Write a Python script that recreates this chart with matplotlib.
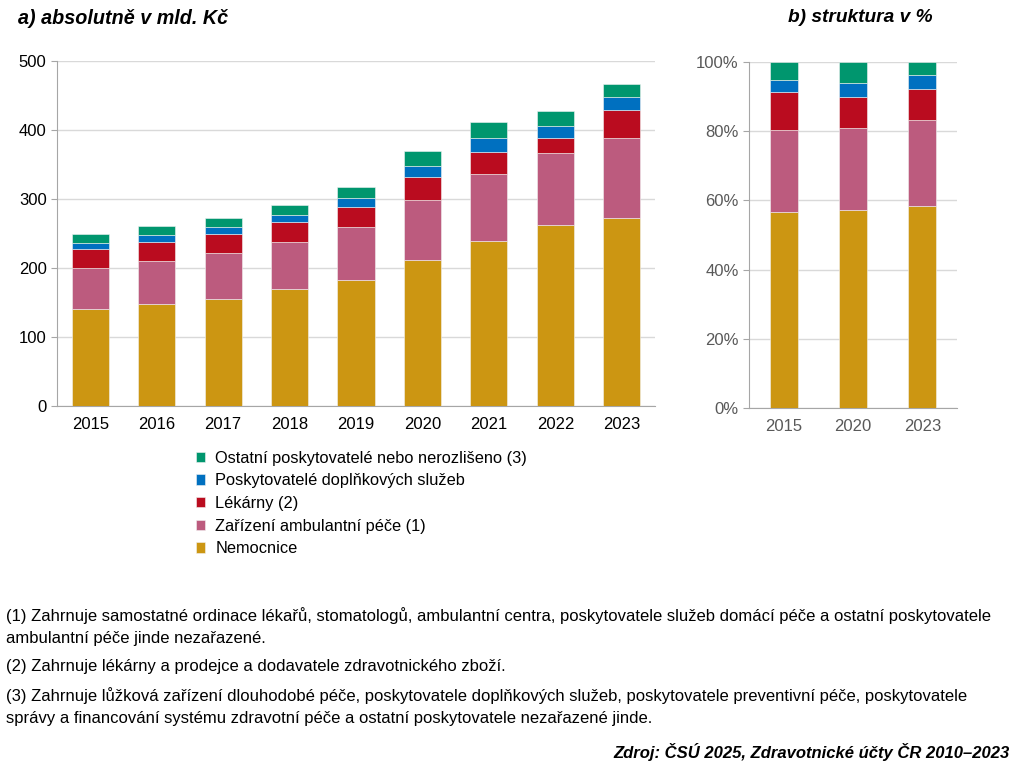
import matplotlib
matplotlib.use('Agg')
import matplotlib.pyplot as plt
import numpy as np

plt.rcParams['font.family'] = ['Liberation Sans', 'DejaVu Sans']

# data a) absolutně v mld. Kč
years = ['2015', '2016', '2017', '2018', '2019', '2020', '2021', '2022', '2023']
nemocnice = [141, 148, 155, 169, 183, 211, 239, 263, 272]
ambulantni = [58.5, 62, 66.5, 69, 76, 88, 97, 103, 116]
lekarny = [28, 27.5, 27.5, 28.5, 30, 33, 32, 22.5, 41]
doplnkove = [8.7, 10, 10, 10.5, 12, 15.5, 20, 17.5, 19]
ostatni = [13, 13, 13, 14.5, 16, 22, 23, 21, 18]

# data b) struktura v %
years_pct = ['2015', '2020', '2023']
nemocnice_pct = [56.7, 57.1, 58.5]
ambulantni_pct = [23.6, 23.8, 24.8]
lekarny_pct = [10.9, 8.9, 8.8]
doplnkove_pct = [3.7, 4.2, 4.0]
ostatni_pct = [5.1, 6.0, 3.9]

labels = ['Nemocnice', 'Zařízení ambulantní péče (1)', 'Lékárny (2)',
          'Poskytovatelé doplňkových služeb', 'Ostatní poskytovatelé nebo nerozlišeno (3)']
colors = ['#CC9612', '#BC5B7E', '#BA0C1F', '#0070C0', '#00966E']

fig = plt.figure(figsize=(10.15, 7.65), dpi=100)

ax1 = fig.add_axes([57 / 1015, 1 - 406 / 765, 598 / 1015, 345 / 765])
ax2 = fig.add_axes([749 / 1015, 1 - 408 / 765, 208 / 1015, 346 / 765])


def stacked(ax, cats, series, width):
    x = np.arange(len(cats))
    bottom = np.zeros(len(cats))
    bars = []
    for vals, col, lab in zip(series, colors, labels):
        b = ax.bar(x, vals, width, bottom=bottom, color=col, label=lab,
                   edgecolor='#F2F2F2', linewidth=0.4, zorder=3)
        bars.append(b)
        bottom = bottom + np.array(vals)
    ax.set_xticks(x)
    ax.set_xticklabels(cats)
    ax.set_xlim(-0.5, len(cats) - 0.5)
    ax.grid(axis='y', color='#D9D9D9', linewidth=1, zorder=0)
    for s in ['top', 'right']:
        ax.spines[s].set_visible(False)
    for s in ['left', 'bottom']:
        ax.spines[s].set_color('#A6A6A6')
    ax.tick_params(axis='x', length=0, pad=8, labelsize=12)
    ax.tick_params(axis='y', length=4, color='#A6A6A6', labelsize=12)
    return bars


bars = stacked(ax1, years, [nemocnice, ambulantni, lekarny, doplnkove, ostatni], 0.56)
ax1.set_ylim(0, 500)
ax1.set_yticks(range(0, 501, 100))

stacked(ax2, years_pct, [nemocnice_pct, ambulantni_pct, lekarny_pct, doplnkove_pct, ostatni_pct], 0.4)
ax2.set_ylim(0, 100)
ax2.set_yticks(range(0, 101, 20))
ax2.set_yticklabels([f'{v}%' for v in range(0, 101, 20)])
ax2.tick_params(axis='both', labelcolor='#595959')

fig.text(18 / 1015, 1 - 18 / 765, 'a) absolutně v mld. Kč', fontsize=14.2,
         fontweight='bold', style='italic', va='center', ha='left')
fig.text(860 / 1015, 1 - 18 / 765, 'b) struktura v %', fontsize=13.8,
         fontweight='bold', style='italic', va='center', ha='center')

leg = fig.legend(handles=bars[::-1], loc='upper left', bbox_to_anchor=(189 / 1015, 1 - 444 / 765),
                 frameon=False, fontsize=11.8, handlelength=0.6, handleheight=0.6,
                 handletextpad=0.6, labelspacing=0.47, borderaxespad=0)

notes = [
    (616, '(1) Zahrnuje samostatné ordinace lékařů, stomatologů, ambulantní centra, poskytovatele služeb domácí péče a ostatní poskytovatele'),
    (639, 'ambulantní péče jinde nezařazené.'),
    (667, '(2) Zahrnuje lékárny a prodejce a dodavatele zdravotnického zboží.'),
    (696, '(3) Zahrnuje lůžková zařízení dlouhodobé péče, poskytovatele doplňkových služeb, poskytovatele preventivní péče, poskytovatele'),
    (719, 'správy a financování systému zdravotní péče a ostatní poskytovatele nezařazené jinde.'),
]
for y, t in notes:
    fig.text(6 / 1015, 1 - y / 765, t, fontsize=12, va='center', ha='left')

fig.text(1010 / 1015, 1 - 752 / 765, 'Zdroj: ČSÚ 2025, Zdravotnické účty ČR 2010\u20132023',
         fontsize=12, fontweight='bold', style='italic', va='center', ha='right')

fig.savefig('out.png', dpi=100, facecolor='white')
